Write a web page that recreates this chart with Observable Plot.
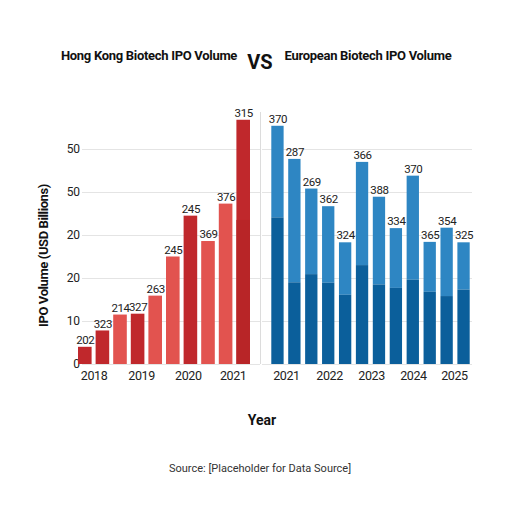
<!DOCTYPE html>
<html>
<head>
<meta charset="utf-8">
<script src="https://cdn.jsdelivr.net/npm/d3@7"></script>
<script src="https://cdn.jsdelivr.net/npm/@observablehq/plot@0.6"></script>
<style>
  body { margin: 0; background: #fff; font-family: Roboto, "Noto Sans", sans-serif; color: #111; }
  #wrap { position: relative; width: 512px; height: 512px; overflow: hidden; }
  .t { position: absolute; white-space: nowrap; transform: translate(-50%, -50%); }
  .title { font-weight: bold; font-size: 13px; letter-spacing: -0.3px; }
  #vs { font-weight: bold; font-size: 20px; }
  #year { font-weight: bold; font-size: 14px; }
  #source { font-size: 11px; color: #333; }
  #left { position: absolute; left: 0; top: 90px; }
  #right { position: absolute; left: 262px; top: 90px; }
  #left svg text, #right svg text { letter-spacing: -0.4px; }
</style>
</head>
<body>
<div id="wrap">
  <div class="t title" style="left:149px; top:55px;">Hong Kong Biotech IPO Volume</div>
  <div class="t" id="vs" style="left:260px; top:62px;">VS</div>
  <div class="t title" style="left:368px; top:55px;">European Biotech IPO Volume</div>
  <div id="left"></div>
  <div id="right"></div>
  <div class="t" id="year" style="left:262px; top:420px;">Year</div>
  <div class="t" id="source" style="left:260px; top:468px;">Source: [Placeholder for Data Source]</div>
</div>
<script>
// Hong Kong bars
const hkLabels = ['202', '323', '214', '327', '263', '245', '245', '369', '376', '315'];
const hkValues = [4.0, 7.8, 11.5, 11.7, 15.9, 25.0, 34.5, 28.6, 37.3, 56.8];
const hkShade = ['dark', 'dark', 'light', 'dark', 'light', 'light', 'dark', 'light', 'light', 'dark'];
const hkLower = [0, 0, 0, 0, 0, 0, 0, 0, 0, 33.5]; // slightly darker lower part of the last bar
const hkYears = ['2018', '2019', '2020', '2021'];
const hkYearPos = [1.0, 3.7, 6.35, 8.9];

// European bars (dark lower part + light upper part)
const euLabels = ['370', '287', '269', '362', '324', '366', '388', '334', '370', '365', '354', '325'];
const euTotal = [55.4, 47.7, 40.8, 36.7, 28.3, 47.0, 38.9, 31.6, 43.8, 28.4, 31.7, 28.3];
const euBase = [34.1, 19.0, 20.9, 18.9, 16.1, 23.0, 18.5, 17.7, 19.6, 16.8, 15.8, 17.3];
const euYears = ['2021', '2022', '2023', '2024', '2025'];
const euYearPos = [1.0, 3.55, 6.03, 8.51, 10.93];

// y axis (labels as printed)
const yTicks = [0, 10, 20, 30, 40, 50];
const yTickLabels = ['0', '10', '20', '20', '50', '50'];

const hk = hkValues.map((v, i) => ({i, value: v, label: hkLabels[i], shade: hkShade[i], lower: hkLower[i]}));
const eu = euTotal.map((v, i) => ({i, total: v, base: euBase[i], label: euLabels[i]}));

const red = {dark: '#c0282c', light: '#e2534f'};
const blueLight = '#2e86c3';
const blueDark = '#0b5f9b';

const common = {
  height: 298,
  marginTop: 16,
  marginBottom: 24,
  y: {domain: [0, 60], axis: null},
  style: {fontFamily: 'Roboto, sans-serif', fontSize: '12px', color: '#222', background: 'transparent'}
};

const left = Plot.plot({
  ...common,
  width: 262,
  marginLeft: 76,
  marginRight: 10,
  x: {domain: [0, 10], axis: null},
  marks: [
    Plot.ruleY(yTicks, {stroke: '#e4e4e4', insetLeft: 6, insetRight: -8}),
    Plot.ruleX([10], {dx: 8, y1: 0, y2: 60, stroke: '#dcdcdc', insetBottom: -6}),
    Plot.axisY(yTicks, {tickSize: 0, tickPadding: -3, fontSize: 12,
      tickFormat: d => yTickLabels[yTicks.indexOf(d)], label: null}),
    Plot.text(['IPO Volume (USD Billions)'], {frameAnchor: 'left', textAnchor: 'middle', rotate: -90, dx: -33, dy: 20,
      fontWeight: 'bold', fontSize: 13, fill: '#111'}),
    Plot.rectY(hk, {x1: 'i', x2: d => d.i + 1, y: 'value', fill: d => red[d.shade], insetLeft: 2, insetRight: 2}),
    Plot.rectY(hk.filter(d => d.lower > 0), {x1: 'i', x2: d => d.i + 1, y: 'lower', fill: '#b82527', insetLeft: 2, insetRight: 2}),
    Plot.text(hk, {x: d => d.i + 0.5, y: 'value', text: 'label', dy: -7, fontSize: 11.5, fill: '#222'}),
    Plot.axisX(hkYearPos, {tickSize: 0, tickPadding: 7, fontSize: 12.5,
      tickFormat: d => hkYears[hkYearPos.indexOf(d)], label: null})
  ]
});

const right = Plot.plot({
  ...common,
  width: 250,
  marginLeft: 7,
  marginRight: 40,
  x: {domain: [0, 12], axis: null},
  marks: [
    Plot.ruleY(yTicks, {stroke: '#e4e4e4', insetLeft: -9}),
    Plot.rectY(eu, {x1: 'i', x2: d => d.i + 1, y1: 'base', y2: 'total', fill: blueLight, insetLeft: 2.3, insetRight: 2.3}),
    Plot.rectY(eu, {x1: 'i', x2: d => d.i + 1, y: 'base', fill: blueDark, insetLeft: 2.3, insetRight: 2.3}),
    Plot.text(eu, {x: d => d.i + 0.5, y: 'total', text: 'label', dy: -7, fontSize: 11.5, fill: '#222'}),
    Plot.axisX(euYearPos, {tickSize: 0, tickPadding: 7, fontSize: 12.5,
      tickFormat: d => euYears[euYearPos.indexOf(d)], label: null})
  ]
});

d3.select('#left').append(() => left);
d3.select('#right').append(() => right);
</script>
</body>
</html>
